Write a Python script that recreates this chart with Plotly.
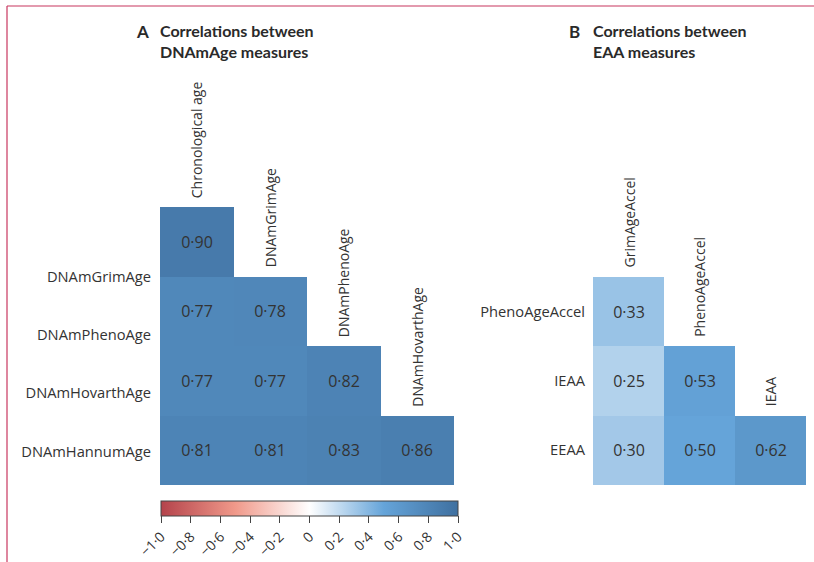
import plotly.graph_objects as go

# ---- data ----
a_cols = ["Chronological age", "DNAmGrimAge", "DNAmPhenoAge", "DNAmHovarthAge"]
a_rows = ["DNAmGrimAge", "DNAmPhenoAge", "DNAmHovarthAge", "DNAmHannumAge"]
a_vals = [
    [0.90, None, None, None],
    [0.77, 0.78, None, None],
    [0.77, 0.77, 0.82, None],
    [0.81, 0.81, 0.83, 0.86],
]
b_cols = ["GrimAgeAccel", "PhenoAgeAccel", "IEAA"]
b_rows = ["PhenoAgeAccel", "IEAA", "EEAA"]
b_vals = [
    [0.33, None, None],
    [0.25, 0.53, None],
    [0.30, 0.50, 0.62],
]
cbar_ticks = [-1.0, -0.8, -0.6, -0.4, -0.2, 0.0, 0.2, 0.4, 0.6, 0.8, 1.0]

W, H = 814, 562
FONT = "Open Sans"
TXT = "#333333"


def fmt(v):
    if v is None:
        return ""
    return f"{abs(v):.2f}".replace(".", "\u00b7")


def fmt_tick(v):
    if abs(v) < 1e-9:
        return "0"
    s = f"{abs(v):.1f}".replace(".", "\u00b7")
    return ("\u2212" if v < 0 else "") + s


def px(x):
    return x / W


def py(y):
    return 1 - y / H


colorscale = [
    [0.0, "#b4434b"],
    [0.25, "#f0998a"],
    [0.5, "#ffffff"],
    [0.75, "#65a4d9"],
    [1.0, "#3f70a0"],
]

fig = go.Figure()

cell_font = dict(family=FONT, size=16, color=TXT)
fig.add_trace(go.Heatmap(
    z=a_vals,
    x=list(range(len(a_cols))),
    y=list(range(len(a_rows))),
    text=[[fmt(v) for v in row] for row in a_vals],
    texttemplate="%{text}",
    textfont=cell_font,
    coloraxis="coloraxis",
    hoverinfo="skip",
    xaxis="x", yaxis="y",
))
fig.add_trace(go.Heatmap(
    z=b_vals,
    x=list(range(len(b_cols))),
    y=list(range(len(b_rows))),
    text=[[fmt(v) for v in row] for row in b_vals],
    texttemplate="%{text}",
    textfont=cell_font,
    coloraxis="coloraxis",
    hoverinfo="skip",
    xaxis="x2", yaxis="y2",
))

annotations = []
col_font = dict(family=FONT, size=14, color=TXT)
for i, c in enumerate(a_cols):
    annotations.append(dict(
        x=i, y=i - 0.5, xref="x", yref="y", text=c, textangle=-90,
        showarrow=False, xanchor="center", yanchor="bottom", yshift=7,
        font=col_font,
    ))
for i, c in enumerate(b_cols):
    annotations.append(dict(
        x=i, y=i - 0.5, xref="x2", yref="y2", text=c, textangle=-90,
        showarrow=False, xanchor="center", yanchor="bottom", yshift=7,
        font=col_font,
    ))

title_font = dict(family="Lato", size=16, color="#2a2a2a")
for letter, lx, tx, line2 in [("A", 134, 158, "DNAmAge measures"),
                              ("B", 567, 591, "EAA measures")]:
    annotations.append(dict(
        x=px(lx), y=py(19), xref="paper", yref="paper", text=f"<b>{letter}</b>",
        showarrow=False, xanchor="left", yanchor="top",
        font=dict(family="Lato", size=17, color="#2a2a2a"),
    ))
    annotations.append(dict(
        x=px(tx), y=py(19), xref="paper", yref="paper",
        text=f"<b>Correlations between<br>{line2}</b>",
        showarrow=False, xanchor="left", yanchor="top", align="left",
        font=title_font,
    ))

frame_color = "#c8365f"
shapes = [
    dict(type="line", xref="paper", yref="paper", x0=px(7), x1=1.0,
         y0=py(6), y1=py(6), line=dict(color=frame_color, width=1.2)),
    dict(type="line", xref="paper", yref="paper", x0=px(7), x1=px(7),
         y0=py(6), y1=0, line=dict(color=frame_color, width=1.2)),
]

fig.update_layout(
    width=W, height=H,
    margin=dict(l=0, r=0, t=0, b=0),
    paper_bgcolor="white", plot_bgcolor="white",
    font=dict(family=FONT, color=TXT),
    xaxis=dict(domain=[px(160), px(454)], range=[-0.5, len(a_cols) - 0.5],
               showticklabels=False, showgrid=False, zeroline=False,
               showline=False, ticks=""),
    yaxis=dict(domain=[py(485), py(207)], range=[len(a_rows) - 0.5, -0.5],
               tickvals=[0.51, 1.34, 2.18, 3.03], ticktext=a_rows,
               showgrid=False, zeroline=False, showline=False, ticks="",
               ticklabelstandoff=8,
               tickfont=dict(family=FONT, size=14.7, color=TXT)),
    xaxis2=dict(domain=[px(593), px(806)], range=[-0.5, len(b_cols) - 0.5],
                showticklabels=False, showgrid=False, zeroline=False,
                showline=False, ticks=""),
    yaxis2=dict(domain=[py(485), py(277)], range=[len(b_rows) - 0.5, -0.5],
                tickvals=list(range(len(b_rows))), ticktext=b_rows,
                anchor="x2",
                showgrid=False, zeroline=False, showline=False, ticks="",
                ticklabelstandoff=7,
                tickfont=dict(family=FONT, size=14.7, color=TXT)),
    coloraxis=dict(
        cmin=-1, cmax=1, colorscale=colorscale,
        colorbar=dict(
            orientation="h", x=px(309.5), xanchor="center",
            y=py(501), yanchor="top", len=297 / W, lenmode="fraction",
            thickness=15, xpad=0, ypad=0,
            outlinewidth=1, outlinecolor="#444444",
            ticks="outside", ticklen=7, tickcolor="#444444", tickwidth=1,
            tickvals=cbar_ticks, ticktext=[fmt_tick(v) for v in cbar_ticks],
            tickangle=-45,
            tickfont=dict(family=FONT, size=14, color=TXT),
        ),
    ),
    annotations=annotations,
    shapes=shapes,
)

fig.write_html("out.html",
               config={"displayModeBar": False},
               post_script="document.body.style.margin='0';"
                           "document.body.style.overflow='hidden';")
